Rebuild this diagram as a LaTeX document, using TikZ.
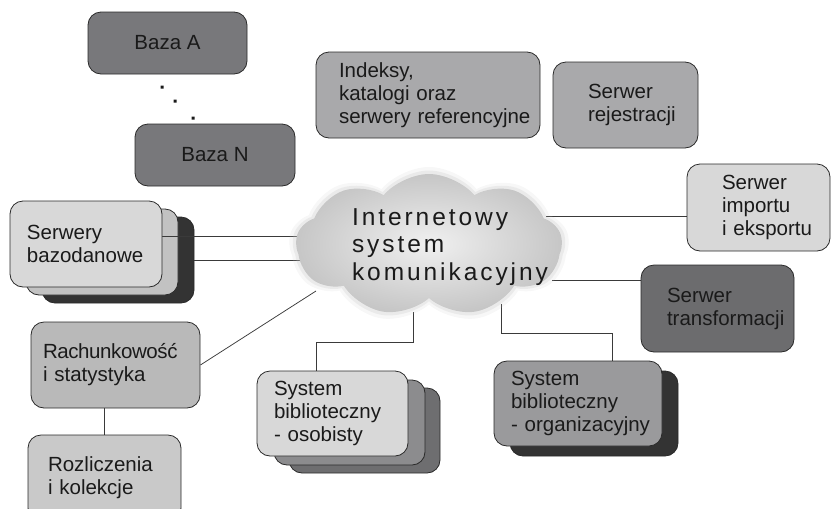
\documentclass[tikz,border=0pt]{standalone}
\usepackage{fontspec}
\setmainfont{Liberation Sans}
\newfontfamily\cloudfamily[LetterSpace=12]{Liberation Sans}
\usetikzlibrary{shapes.symbols,calc}

\definecolor{edge}{HTML}{2A2A2A}
\definecolor{ink}{HTML}{1A1A1A}
\definecolor{wire}{HTML}{3A3A3A}
\definecolor{dbfill}{HTML}{78787B}
\definecolor{midfill}{HTML}{A9A9AB}
\definecolor{lightfill}{HTML}{D8D8D8}
\definecolor{stackmid}{HTML}{C2C2C2}
\definecolor{stackdark}{HTML}{333333}
\definecolor{acctfill}{HTML}{B9B9B9}
\definecolor{billfill}{HTML}{C9C9C9}
\definecolor{transfill}{HTML}{6C6C6E}
\definecolor{orgfill}{HTML}{9A9A9C}
\definecolor{persmid}{HTML}{8C8C8E}
\definecolor{persdark}{HTML}{6E6E70}
\definecolor{cloudout}{HTML}{C6C6C6}
\definecolor{cloudin}{HTML}{F0F0F0}

% card text: no hyphenation, lines may run into the right padding
\newcommand\cardfont{\fontsize{20.5}{23}\selectfont\hyphenpenalty=10000\exhyphenpenalty=10000\hbadness=10000\hfuzz=60pt}
\newcommand\cloudtextfont{\cloudfamily\fontsize{24.5}{27.5}\selectfont}

\pgfdeclarelayer{stack}
\pgfdeclarelayer{wires}
\pgfsetlayers{stack,wires,main}

\begin{document}
\begin{tikzpicture}[x=1pt, y=-1pt,
  card/.style={draw=edge, line width=0.8pt, rounded corners=13pt,
    inner ysep=0pt, align=left, font=\cardfont, text=ink},
  plain/.style={draw=edge, line width=0.8pt, rounded corners=13pt},
  wirestyle/.style={draw=wire, line width=0.75pt},
  puff/.style={cloud, cloud puffs=9, cloud puff arc=100, cloud ignores aspect, draw=none}]
\useasboundingbox (0,0) rectangle (832,517);

% databases
\node[card, align=center, fill=dbfill, minimum width=159, minimum height=62] (bazaA) at (167.5,43) {Baza A};
\node[card, align=center, fill=dbfill, minimum width=160, minimum height=62] (bazaN) at (215,155) {Baza N};
\fill[ink] (160.5,85.5) rectangle ++(3,3) (173.5,99.5) rectangle ++(3,3) (191.5,116.5) rectangle ++(3,3);

% top row
\node[card, fill=midfill, minimum width=224, minimum height=86, inner xsep=23, text width=178] (index) at (428,95)
  {Indeksy,\\katalogi~oraz\\serwery~referencyjne};
\node[card, fill=midfill, minimum width=145, minimum height=86, inner xsep=35, text width=75] (reg) at (625.5,105)
  {Serwer\\rejestracji};

% right column
\node[card, fill=lightfill, minimum width=143, minimum height=87, inner xsep=35, text width=73] (imp) at (758.5,207.5)
  {Serwer\\importu\\i~eksportu};
\node[card, fill=transfill, minimum width=153, minimum height=87, inner xsep=26, text width=101] (trans) at (717.5,308.5)
  {Serwer\\transformacji};

% database servers (stacked)
\begin{pgfonlayer}{stack}
  \node[plain, fill=stackdark, minimum width=152, minimum height=86] (sb3) at (118,260) {};
  \node[plain, fill=stackmid, minimum width=152, minimum height=86] (sb2) at (102,252) {};
\end{pgfonlayer}
\node[card, fill=lightfill, minimum width=152, minimum height=86, inner xsep=17, text width=118] (sb1) at (86,244)
  {Serwery\\bazodanowe};

% accounting
\node[card, fill=acctfill, minimum width=169, minimum height=86, inner xsep=12, text width=145] (acct) at (115.5,365)
  {{\addfontfeature{LetterSpace=-2}Rachunkowość}\\i statystyka};
\begin{scope}
  \clip (0,0) rectangle (832,508);
  \node[card, fill=billfill, minimum width=153, minimum height=86, inner xsep=20, text width=113] (bill) at (104.5,478)
    {Rozliczenia\\i kolekcje};
\end{scope}

% personal library system (stacked)
\begin{pgfonlayer}{stack}
  \node[plain, fill=persdark, minimum width=151, minimum height=85] (os3) at (364.5,430.5) {};
  \node[plain, fill=persmid, minimum width=151, minimum height=85] (os2) at (349.5,422.5) {};
\end{pgfonlayer}
\node[card, fill=lightfill, minimum width=151, minimum height=85, inner xsep=17, text width=117] (os1) at (332.5,413.5)
  {System\\biblioteczny\\- osobisty};

% organisational library system (stacked)
\begin{pgfonlayer}{stack}
  \node[plain, fill=stackdark, minimum width=168, minimum height=85] (org2) at (594,413.5) {};
\end{pgfonlayer}
\node[card, fill=orgfill, minimum width=168, minimum height=85, inner xsep=17, text width=134] (org1) at (578,403.5)
  {System\\biblioteczny\\-~organizacyjny};

% communication cloud with a soft rim
\node[puff, fill=cloudout, opacity=0.15, minimum width=280, minimum height=156] (nethalo2) at (429,245) {};
\node[puff, fill=cloudout, opacity=0.25, minimum width=273, minimum height=149] (nethalo1) at (429,245) {};
\node[puff, inner color=cloudin, outer color=cloudout, minimum width=266, minimum height=142] (net) at (429,245) {};
\node[align=left, font=\cloudtextfont, text=ink, inner sep=0pt] (nettext) at (450,247)
  {Internetowy\\system\\komunikacyjny};

% connection points on the cloud
\coordinate (inL1) at (304,236);
\coordinate (inL2) at (304,260);
\coordinate (inR) at (316,291);
\coordinate (inB1) at (413,312);
\coordinate (inB2) at (501,304);
\coordinate (inE1) at (546,216);
\coordinate (inE2) at (552,280);

\begin{pgfonlayer}{wires}
  \draw[wirestyle] ($(sb1.east)+(0,-8)$) -- (inL1);
  \draw[wirestyle] (sb3.east) -- (inL2);
  \draw[wirestyle] (acct.east) -- (inR);
  \draw[wirestyle] (bill.north) -- (bill.north |- acct.south);
  \draw[wirestyle] ($(os1.north)+(-16.5,0)$) -- ++(0,-28) -| (inB1);
  \draw[wirestyle] ($(org1.north)+(34,0)$) -- ++(0,-27) -| (inB2);
  \draw[wirestyle] ($(imp.west)+(0,8.5)$) -- (inE1);
  \draw[wirestyle] ($(trans.west)+(0,-28.5)$) -- (inE2);
\end{pgfonlayer}
\end{tikzpicture}
\end{document}
